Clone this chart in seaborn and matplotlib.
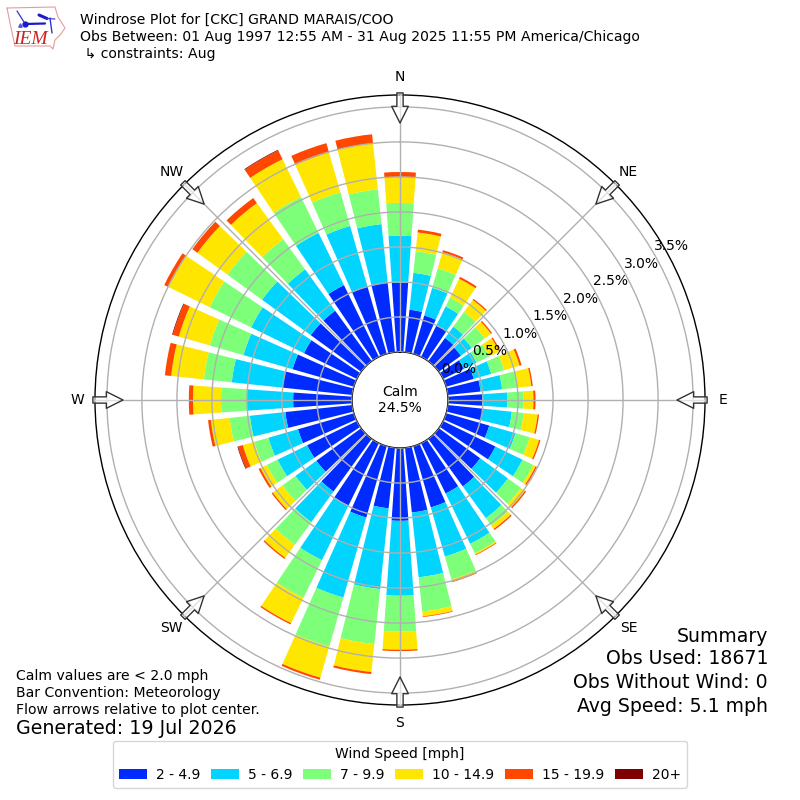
import matplotlib
matplotlib.use("Agg")
import matplotlib.pyplot as plt
import numpy as np
import seaborn as sns

# percent of observations per 10 degree direction bin, starting at north going clockwise
directions = np.arange(0, 360, 10)
speed_2_5 = [.99, .61, .57, .50, .41, .39, .33, .41, .47, .49, .51, .64,
             .83, .73, .84, .80, .91, .93, 1.04, .87, 1.06, .99, .93, .79,
             .79, .83, .96, .84, 1.00, .91, .84, .89, .89, 1.14, 1.01, 1.00]
speed_5_7 = [.67, .53, .41, .30, .20, .19, .20, .26, .31, .36, .41, .39,
             .43, .49, .56, .80, .73, .93, 1.07, 1.16, 1.19, .87, .54, .37,
             .47, .44, .51, .66, .73, .73, .84, .86, .73, .83, .89, .84]
speed_7_10 = [.47, .31, .29, .14, .26, .23, .20, .19, .23, .23, .17, .21,
              .17, .23, .13, .15, .34, .49, .51, .79, .73, .60, .40, .23,
              .17, .21, .29, .37, .40, .50, .66, .61, .53, .57, .50, .50]
speed_10_15 = [.37, .27, .24, .30, .21, .11, .16, .23, .19, .14, .20, .14,
               .04, .07, .06, .02, .03, .07, .26, .40, .46, .40, .23, .17,
               .10, .17, .27, .40, .47, .46, .66, .53, .64, .60, .59, .66]
speed_15_20 = [.07, .04, .03, .03, .02, .02, .02, .03, .02, .03, .02, .02,
               .02, .02, .02, .01, .01, .01, .02, .03, .03, .02, .02, .02,
               .03, .07, .04, .06, .09, .09, .06, .09, .09, .14, .14, .13]
speed_20 = [0, 0, 0, 0, 0, 0, 0, 0, 0, 0, 0, 0,
            0, 0, 0, 0, 0, 0, 0, 0, 0, 0, 0, 0,
            0, .01, 0, 0, 0, .01, 0, 0, 0, .01, 0, 0]

speed_labels = ["2 - 4.9", "5 - 6.9", "7 - 9.9", "10 - 14.9", "15 - 19.9", "20+"]
speed_colors = ["#002bff", "#00d4ff", "#7dff7a", "#ffe600", "#ff4700", "#7f0000"]
compass = ["N", "NE", "E", "SE", "S", "SW", "W", "NW"]
rticks = [0.0, 0.5, 1.0, 1.5, 2.0, 2.5, 3.0, 3.5]

sns.set_style("white")
plt.rcParams['font.family'] = ['DejaVu Sans']
plt.rcParams['text.color'] = "black"
palette = sns.color_palette(speed_colors)

fig = plt.figure(figsize=(8, 8), dpi=100)
ax = fig.add_axes([95 / 800, 95 / 800, 610 / 800, 610 / 800], projection="polar")
ax.set_theta_zero_location("N")
ax.set_theta_direction(-1)

theta = np.deg2rad(directions)
bottom = np.zeros(len(directions))
handles = []
for vals, color, label in zip([speed_2_5, speed_5_7, speed_7_10, speed_10_15, speed_15_20, speed_20],
                              palette, speed_labels):
    bars = ax.bar(theta, vals, width=np.deg2rad(8), bottom=bottom, color=color,
                  edgecolor="none", linewidth=0, label=label, zorder=2)
    handles.append(bars)
    bottom = bottom + np.array(vals)

ax.set_rorigin(-48 / 70)
ax.set_ylim(0, 3.67)
ax.set_yticks(rticks)
ax.set_yticklabels([])
ax.set_xticks(np.deg2rad(np.arange(0, 360, 45)))
ax.set_xticklabels(compass, fontsize=10, color="black")
ax.tick_params(axis="x", pad=2.5)
ax.grid(True, color="#b0b0b0", linewidth=1, zorder=3)
ax.set_axisbelow(False)
for spine in ax.spines.values():
    spine.set_color("black")
    spine.set_linewidth(1)

# percent labels run along the 60 degree line
for r in rticks:
    ax.text(np.deg2rad(60), r, f"{r:.1f}%", fontsize=10, ha="left", va="bottom",
            color="black", zorder=6)

# hollow flow arrows on the compass spokes
for a in np.arange(0, 360, 45):
    ax.annotate("", xy=(np.deg2rad(a), 3.27), xytext=(np.deg2rad(a), 3.70),
                xycoords="data", textcoords="data", annotation_clip=False,
                arrowprops=dict(arrowstyle="simple,head_length=12,head_width=12,tail_width=4.5",
                                mutation_scale=1, shrinkA=0, shrinkB=0,
                                fc=(1, 1, 1, 0.6), ec="#333333", lw=1), zorder=7)

ax.text(0.5, 0.5, "Calm\n24.5%", transform=ax.transAxes, ha="center", va="center",
        fontsize=10, color="black")

# header
fig.text(80 / 800, 1 - 20 / 800, "Windrose Plot for [CKC] GRAND MARAIS/COO", fontsize=10.12, va="center")
fig.text(80 / 800, 1 - 37 / 800, "Obs Between: 01 Aug 1997 12:55 AM - 31 Aug 2025 11:55 PM America/Chicago",
         fontsize=10.12, va="center")
fig.text(80 / 800, 1 - 54 / 800, " \u21b3 constraints: Aug", fontsize=10.12, va="center")

# summary, lower right
summary = ["Summary", "Obs Used: 18671", "Obs Without Wind: 0", "Avg Speed: 5.1 mph"]
for y, line in zip([636, 659, 682, 706], summary):
    fig.text(768 / 800, 1 - y / 800, line, fontsize=13.6, ha="right", va="center")

# notes, lower left
notes = ["Calm values are < 2.0 mph", "Bar Convention: Meteorology", "Flow arrows relative to plot center."]
for y, line in zip([676, 693, 710], notes):
    fig.text(16 / 800, 1 - y / 800, line, fontsize=10.08, va="center")
fig.text(16 / 800, 1 - 729 / 800, "Generated: 19 Jul 2026", fontsize=13.7, va="center")

fig.legend(handles=handles, labels=speed_labels, ncol=6, title="Wind Speed [mph]", fontsize=10,
           title_fontsize=10, loc="lower center", bbox_to_anchor=(0.5, 12 / 800), frameon=True,
           edgecolor="#cccccc", borderaxespad=0, columnspacing=0.78, handletextpad=0.65,
           borderpad=0.45)

# IEM logo, top left corner
logo = fig.add_axes([0, 1 - 60 / 800, 80 / 800, 60 / 800])
logo.set_xlim(0, 80)
logo.set_ylim(60, 0)
logo.axis("off")
outline_x = [7, 55, 58, 65, 60, 55, 53, 50, 15, 13, 10, 7]
outline_y = [8, 7, 17, 28, 35, 40, 49, 46, 46, 37, 23, 8]
logo.plot(outline_x, outline_y, color="#ea9a9a", lw=0.8)
logo.plot([25, 45], [24, 23.5], color="#1a1acc", lw=1.6)
logo.plot([25], [23.5], "o", color="#1a1acc", ms=3.5)
logo.plot([20], [24.5], "^", color="#5555dd", ms=2.5)
logo.plot([17, 24], [11, 22], color="#3333cc", lw=0.9)
logo.plot([39, 47], [15, 18.5], color="#1a1acc", lw=2.2)
logo.plot([47, 55], [18.5, 19], color="#3333cc", lw=0.8)
logo.plot([50, 52], [18, 33], color="#3333cc", lw=1.0)
logo.text(30, 39, "IEM", family="Liberation Serif", style="italic", color="#cc2222",
          fontsize=14, ha="center", va="center")

fig.savefig("out.png", dpi=100)
